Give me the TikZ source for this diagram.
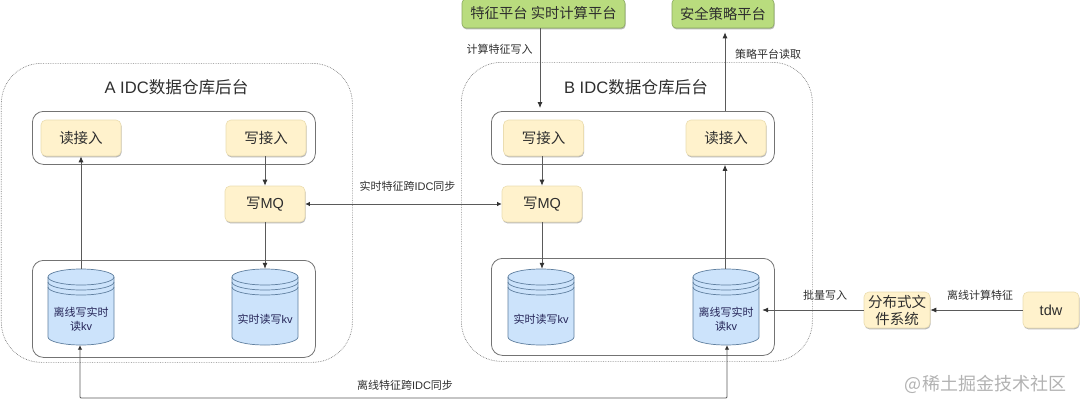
\documentclass[tikz,border=0pt]{standalone}
\usepackage{fontspec}
\setmainfont{Noto Sans CJK SC}
\newfontfamily\lf{Liberation Sans}
\usetikzlibrary{arrows.meta,shadows}
\definecolor{yfill}{HTML}{FFF2CC}
\definecolor{ydraw}{HTML}{EBDDB0}
\definecolor{gfill}{HTML}{B9DC7E}
\definecolor{gdraw}{HTML}{8AA860}
\definecolor{bfill}{HTML}{CCE3FB}
\definecolor{bdraw}{HTML}{5F7F9F}
\definecolor{ln}{HTML}{5A5A5A}
\definecolor{tx}{HTML}{2E2E2E}
\tikzset{
  x=1pt,y=-1pt,
  outerbox/.style={draw=gray,densely dotted,line width=.7pt,rounded corners=40pt,anchor=north west,inner sep=0pt},
  groupbox/.style={draw=ln!85,line width=.8pt,rounded corners=11pt,fill=white,anchor=north west,inner sep=0pt},
  softshadow/.style={drop shadow={shadow xshift=.6pt,shadow yshift=-1.4pt,fill=black,opacity=.28}},
  ybox/.style={draw=ydraw,fill=yfill,line width=.6pt,rounded corners=5pt,minimum width=#1,minimum height=36pt,inner sep=0pt,align=center,font=\fontsize{14.5}{17}\selectfont,text=tx,softshadow},
  ybox/.default=80pt,
  gbox/.style={draw=gdraw,fill=gfill,line width=.6pt,rounded corners=4pt,minimum width=#1,minimum height=29pt,inner sep=0pt,font=\fontsize{14.3}{16}\selectfont,text=tx,softshadow},
  dbshape/.style={minimum width=66pt,minimum height=76pt,inner sep=0pt},
  dbtext/.style={inner sep=0pt,align=center,font=\fontsize{11}{14}\selectfont,text=tx!80!blue},
  lab/.style={font=\fontsize{11}{12}\selectfont,text=tx},
  title/.style={font=\fontsize{16.6}{20}\selectfont,text=tx},
  conn/.style={draw=ln,line width=.8pt,-{Latex[length=6pt,width=5pt,color=black!80]}},
  conn2/.style={draw=ln,line width=.8pt,{Latex[length=4.5pt,width=4.5pt,color=black!80]}-{Latex[length=4.5pt,width=4.5pt,color=black!80]}},
}
\newcommand{\dbcyl}[3]{% name, x center, y center
  \node[dbshape] (#1) at (#2,#3) {};
  \begin{scope}[shift={(#2,#3)}]
    \filldraw[fill=bfill,draw=bdraw,line width=.7pt]
      (-33,-30) arc[x radius=33,y radius=8,start angle=180,end angle=360]
      -- (33,30) arc[x radius=33,y radius=8,start angle=0,end angle=180] -- cycle;
    \draw[bdraw,line width=.7pt] (-33,-30) arc[x radius=33,y radius=8,start angle=180,end angle=0];
    \draw[bdraw,line width=.7pt] (-33,-25) arc[x radius=33,y radius=8,start angle=180,end angle=0];
    \draw[bdraw,line width=.7pt] (-33,-20) arc[x radius=33,y radius=8,start angle=180,end angle=0];
  \end{scope}
}
\begin{document}
\begin{tikzpicture}
\useasboundingbox (0,0) rectangle (1080,408);
% outer dotted boxes
\node[outerbox,minimum width=351pt,minimum height=299pt] (outerA) at (1,63) {};
\node[outerbox,minimum width=351pt,minimum height=299pt] (outerB) at (461,62) {};
\node[title] (titleA) at (176.5,87) {{\lf A IDC}数据仓库后台};
\node[title] (titleB) at (636,87) {{\lf B IDC}数据仓库后台};
% groups
\node[groupbox,minimum width=283pt,minimum height=53pt] (topA) at (32,111) {};
\node[groupbox,minimum width=283pt,minimum height=97pt] (botA) at (32,260) {};
\node[groupbox,minimum width=283pt,minimum height=53pt] (topB) at (491,111) {};
\node[groupbox,minimum width=283pt,minimum height=97pt] (botB) at (491,258) {};
% boxes
\node[ybox] (readA) at (81,138) {读接入};
\node[ybox] (writeA) at (266,138) {写接入};
\node[ybox] (mqA) at (265,204) {写{\lf MQ}};
\node[ybox] (writeB) at (543.5,138) {写接入};
\node[ybox] (readB) at (726,138) {读接入};
\node[ybox] (mqB) at (542,204) {写{\lf MQ}};
\node[ybox=66pt] (dfs) at (897,310) {分布式文\\件系统};
\node[ybox=56pt] (tdw) at (1051,310) {\lf tdw};
\node[gbox=163pt] (plat) at (543.5,13.5) {特征平台 实时计算平台};
\node[gbox=102pt] (sec) at (723,13.5) {安全策略平台};
% cylinders
\dbcyl{cylA1}{81}{307}
\dbcyl{cylA2}{265}{307}
\dbcyl{cylB1}{541}{307}
\dbcyl{cylB2}{726}{307}
\node[dbtext] (kvA1) at (81,319) {离线写实时\\读{\lf kv}};
\node[dbtext] (kvA2) at (265,319) {实时读写{\lf kv}};
\node[dbtext] (kvB1) at (541,319) {实时读写{\lf kv}};
\node[dbtext] (kvB2) at (726,319) {离线写实时\\读{\lf kv}};
% connectors
\coordinate (xP) at (540,0);
\coordinate (xS) at (725,0);
\coordinate (cA) at (80,398);
\coordinate (cB) at (727,398);
\draw[conn] (cylA1.north) -- (readA.south);
\draw[conn] (mqA.north |- writeA.south) -- (mqA.north);
\draw[conn] (mqA.south) -- (cylA2.north);
\draw[conn,shorten >=3pt] (xP |- plat.south) -- (xP |- topB.north);
\draw[conn,shorten >=4pt] (xS |- topB.north) -- (xS |- sec.south);
\draw[conn] (xS |- cylB2.north) -- (xS |- topB.south);
\draw[conn] (mqB.north |- writeB.south) -- (mqB.north);
\draw[conn] (mqB.south) -- (mqB.south |- cylB1.north);
\draw[conn2] (mqA.east) -- (mqB.west);
\draw[conn,shorten >=3pt] (dfs.west) -- (cylB2.east |- dfs.west);
\draw[conn] (tdw.west) -- (dfs.east);
\draw[conn2,rounded corners=1pt] (cA |- cylA1.south) -- (cA) -- (cB) -- (cB |- cylB2.south);
% labels
\node[lab] (l1) at (407.5,186) {实时特征跨{\lf IDC}同步};
\node[lab] (l2) at (405,385.5) {离线特征跨{\lf IDC}同步};
\node[lab] (l3) at (499.5,49) {计算特征写入};
\node[lab] (l4) at (768,54) {策略平台读取};
\node[lab] (l5) at (825,295) {批量写入};
\node[lab] (l6) at (980,295) {离线计算特征};
\node[font=\fontsize{18}{20}\selectfont,text=gray!60] (wm) at (985.5,384) {@稀土掘金技术社区};
\end{tikzpicture}
\end{document}
